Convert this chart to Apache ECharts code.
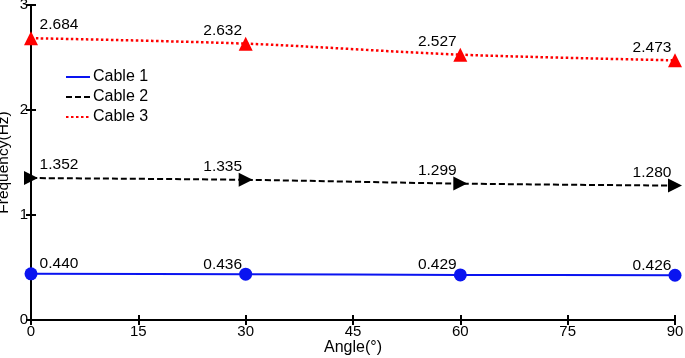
<!DOCTYPE html>
<html><head><meta charset="utf-8">
<script src="https://cdn.jsdelivr.net/npm/echarts@6/dist/echarts.min.js"></script>
<style>html,body{margin:0;padding:0;background:#fff}#c{width:685px;height:358px}</style>
</head><body><div id="c"></div>
<script>
var angles = [0, 30, 60, 90];
var cable1 = [0.440, 0.436, 0.429, 0.426];
var cable2 = [1.352, 1.335, 1.299, 1.280];
var cable3 = [2.684, 2.632, 2.527, 2.473];
var names = ['Cable 1', 'Cable 2', 'Cable 3'];

var font = 'Liberation Sans';
function labelFor(vals, dy) {
  return vals.map(function (v, i) {
    var first = i === 0;
    return {
      value: [angles[i], v],
      label: {
        show: true,
        formatter: v.toFixed(3),
        position: 'inside',
        align: 'center', verticalAlign: 'middle',
        offset: [first ? 28 : -23, dy],
        color: '#000', fontSize: 15.5, fontFamily: font
      }
    };
  });
}
var chart = echarts.init(document.getElementById('c'));
chart.setOption({
  animation: false,
  grid: { left: 31, right: 10, top: 5, bottom: 38, outerBoundsMode: 'none', containLabel: false },
  legend: {
    orient: 'vertical', left: 60, top: 64, itemGap: 4,
    itemWidth: 24, itemHeight: 16,
    itemStyle: { opacity: 0 },
    textStyle: { fontSize: 16, fontFamily: font, color: '#000', padding: [0, 0, 0, -2] },
    data: names
  },
  xAxis: [{
    type: 'value', min: 0, max: 90, interval: 15,
    name: 'Angle(°)', nameLocation: 'middle', nameGap: 20, nameMoveOverlap: false,
    nameTextStyle: { fontSize: 16, fontFamily: font, color: '#000' },
    axisLine: { lineStyle: { color: '#000', width: 2 } },
    axisTick: { inside: true, length: 5, lineStyle: { color: '#000', width: 2 } },
    axisLabel: { fontSize: 15, fontFamily: font, color: '#000', margin: 4 },
    splitLine: { show: false }
  }, {
    type: 'value', min: 0, max: 90, interval: 15, position: 'top',
    axisLine: { lineStyle: { color: '#000', width: 2 } },
    axisTick: { inside: true, length: 5, lineStyle: { color: '#000', width: 2 } },
    axisLabel: { show: false }, splitLine: { show: false }
  }],
  yAxis: [{
    type: 'value', min: 0, max: 3, interval: 1,
    name: 'Frequency(Hz)', nameLocation: 'middle', nameGap: 19, nameMoveOverlap: false,
    nameTextStyle: { fontSize: 15.5, fontFamily: font, color: '#000' },
    axisLine: { show: true, lineStyle: { color: '#000', width: 2 } },
    axisTick: { show: true, inside: true, length: 5, lineStyle: { color: '#000', width: 2 } },
    axisLabel: { fontSize: 15, fontFamily: font, color: '#000', margin: 3 },
    splitLine: { show: false }
  }, {
    type: 'value', min: 0, max: 3, interval: 1, position: 'right',
    axisLine: { show: true, lineStyle: { color: '#000', width: 2 } },
    axisTick: { show: true, inside: true, length: 5, lineStyle: { color: '#000', width: 2 } },
    axisLabel: { show: false }, splitLine: { show: false }
  }],
  series: [{
    name: names[0], type: 'line', smooth: 0.3,
    data: labelFor(cable1, -10),
    symbol: 'circle', symbolSize: 13,
    itemStyle: { color: '#0a14f0' },
    lineStyle: { color: '#0a14f0', width: 2, type: 'solid' },
    z: 3
  }, {
    name: names[1], type: 'line', smooth: 0.3,
    data: labelFor(cable2, -13),
    symbol: 'triangle', symbolSize: 14, symbolRotate: -90,
    itemStyle: { color: '#000' },
    lineStyle: { color: '#000', width: 2, type: [6, 3] },
    z: 3
  }, {
    name: names[2], type: 'line', smooth: 0.3,
    data: labelFor(cable3, -13),
    symbol: 'triangle', symbolSize: 14,
    itemStyle: { color: '#ff0000' },
    lineStyle: { color: '#ff0000', width: 2.5, type: [2.5, 2.5] },
    z: 3
  }]
});
</script></body></html>
